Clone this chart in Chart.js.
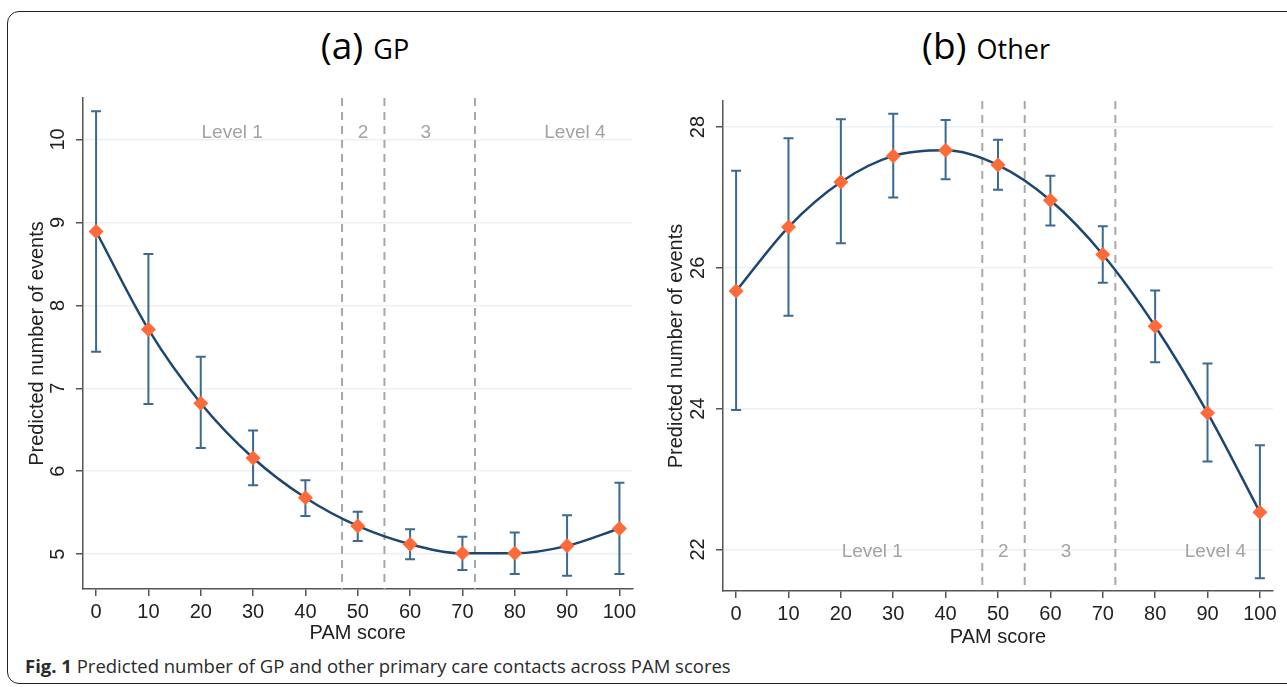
<!DOCTYPE html>
<html>
<head>
<meta charset="utf-8">
<script src="https://cdn.jsdelivr.net/npm/chart.js@4.4.0/dist/chart.umd.min.js"></script>
<style>
  html, body { margin: 0; padding: 0; background: #fff; overflow: hidden; }
  body { width: 1287px; height: 687px; position: relative; font-family: "Open Sans", sans-serif; }
  #frame { position: absolute; left: 7px; top: 11px; width: 1320px; height: 673px; border: 1.5px solid #222; border-radius: 12px; box-sizing: border-box; }
  .title { position: absolute; top: 19px; color: #000; white-space: nowrap; transform: translateX(-50%); }
  .title .big { font-size: 37px; }
  .title .small { font-size: 27px; margin-left: 6px; }
  canvas { position: absolute; top: 90px; }
  #caption { position: absolute; left: 25px; top: 653px; font-size: 18.5px; color: #2a2a2a; white-space: nowrap; }
</style>
</head>
<body>
<div id="frame"></div>
<div class="title" style="left:365px"><span class="big">(a)</span> <span class="small">GP</span></div>
<div class="title" style="left:986px"><span class="big">(b)</span> <span class="small">Other</span></div>
<canvas id="gpChart" width="640" height="560" style="left:0px"></canvas>
<canvas id="otherChart" width="647" height="560" style="left:640px"></canvas>
<div id="caption"><b>Fig. 1</b> Predicted number of GP and other primary care contacts across PAM scores</div>
<script>
// PAM score on the x axis
const pamScores = [0, 10, 20, 30, 40, 50, 60, 70, 80, 90, 100];
const xTicks = [0, 10, 20, 30, 40, 50, 60, 70, 80, 90, 100];

// (a) GP
const gpPredicted = [8.89, 7.71, 6.82, 6.16, 5.68, 5.34, 5.12, 5.01, 5.01, 5.10, 5.31];
const gpLower = [7.44, 6.81, 6.28, 5.83, 5.46, 5.16, 4.94, 4.81, 4.76, 4.74, 4.76];
const gpUpper = [10.34, 8.62, 7.38, 6.49, 5.89, 5.51, 5.30, 5.21, 5.26, 5.47, 5.86];
const gpTicks = [5, 6, 7, 8, 9, 10];

// (b) Other
const otherPredicted = [25.67, 26.58, 27.22, 27.59, 27.67, 27.46, 26.96, 26.19, 25.17, 23.94, 22.53];
const otherLower = [23.98, 25.32, 26.35, 27.00, 27.26, 27.11, 26.60, 25.79, 24.66, 23.25, 21.59];
const otherUpper = [27.38, 27.84, 28.11, 28.19, 28.10, 27.82, 27.31, 26.59, 25.68, 24.64, 23.48];
const otherTicks = [22, 24, 26, 28];

// PAM level cut points and labels
const levelCuts = [47, 55.1, 72.4];
const levelNames = ["Level 1", "2", "3", "Level 4"];
const levelMid = [26, 51, 63, 91.5];

const axisFont = { family: '"Liberation Sans", Arial, sans-serif', size: 20 };

// dashed cut lines, level labels and error bars
const pamExtras = {
  id: 'pamExtras',
  beforeDatasetsDraw(chart, args, opts) {
    const { ctx, chartArea, scales: { x, y } } = chart;
    ctx.save();
    ctx.strokeStyle = '#a8a8a8';
    ctx.lineWidth = 2;
    ctx.setLineDash([8, 6]);
    levelCuts.forEach(v => {
      const px = x.getPixelForValue(v);
      ctx.beginPath();
      ctx.moveTo(px, chartArea.top);
      ctx.lineTo(px, chartArea.bottom);
      ctx.stroke();
    });
    ctx.setLineDash([]);

    ctx.fillStyle = '#a3a3a3';
    ctx.font = '19px "Liberation Sans", Arial, sans-serif';
    ctx.textAlign = 'center';
    ctx.textBaseline = 'middle';
    levelNames.forEach((t, i) => {
      ctx.fillText(t, x.getPixelForValue(levelMid[i]), y.getPixelForValue(opts.labelY));
    });

    ctx.strokeStyle = '#3b6990';
    ctx.lineWidth = 2;
    opts.lower.forEach((lo, i) => {
      const px = x.getPixelForValue(pamScores[i]);
      const p1 = y.getPixelForValue(lo);
      const p2 = y.getPixelForValue(opts.upper[i]);
      ctx.beginPath();
      ctx.moveTo(px, p1); ctx.lineTo(px, p2);
      ctx.moveTo(px - 5, p1); ctx.lineTo(px + 5, p1);
      ctx.moveTo(px - 5, p2); ctx.lineTo(px + 5, p2);
      ctx.stroke();
    });
    ctx.restore();
  }
};

function makeChart(id, pred, lower, upper, yMin, yMax, yTicks, labelY, lay) {
  return new Chart(document.getElementById(id), {
    type: 'line',
    data: {
      datasets: [{
        data: pamScores.map((v, i) => ({ x: v, y: pred[i] })),
        borderColor: '#1d4770',
        borderWidth: 2.5,
        pointStyle: 'rectRot',
        pointRadius: 7.5,
        pointBackgroundColor: '#ff6a3a',
        pointBorderColor: '#ff6a3a',
        pointBorderWidth: 0,
        cubicInterpolationMode: 'monotone'
      }]
    },
    options: {
      responsive: false,
      animation: false,
      devicePixelRatio: 1,
      layout: { padding: { left: 0, top: lay.top, right: lay.right, bottom: 0 } },
      plugins: {
        legend: { display: false },
        tooltip: { enabled: false },
        pamExtras: { lower: lower, upper: upper, labelY: labelY }
      },
      scales: {
        x: {
          type: 'linear',
          min: -2.5,
          max: 102.5,
          afterBuildTicks: s => { s.ticks = xTicks.map(v => ({ value: v })); },
          afterFit: s => { s.height = lay.xHeight; s.paddingLeft = 0; s.paddingRight = 0; },
          border: { display: true, color: '#555', width: 1.5 },
          grid: { drawOnChartArea: false, color: '#555', tickLength: 7, lineWidth: 1.5 },
          ticks: { color: '#222', font: axisFont, padding: 4, maxRotation: 0 },
          title: { display: true, text: 'PAM score', color: '#222', font: axisFont, padding: { top: 0, bottom: lay.xTitlePad } }
        },
        y: {
          min: yMin,
          max: yMax,
          afterBuildTicks: s => { s.ticks = yTicks.map(v => ({ value: v })); },
          afterFit: s => { s.width = 83; s.paddingTop = 0; s.paddingBottom = 0; },
          border: { display: true, color: '#555', width: 1.5 },
          grid: { color: '#e9f1f8', lineWidth: 1.5, tickColor: '#555', tickLength: 7 },
          ticks: { color: '#222', font: axisFont, minRotation: 90, maxRotation: 90, crossAlign: 'center', padding: 6 },
          title: { display: true, text: 'Predicted number of events', color: '#222', font: axisFont, padding: { top: lay.yTitlePad, bottom: 0 } }
        }
      }
    },
    plugins: [pamExtras]
  });
}

makeChart('gpChart', gpPredicted, gpLower, gpUpper, 4.58, 10.5, gpTicks, 10.08,
  { top: 8, right: 7, xHeight: 61, xTitlePad: 5, yTitlePad: 25 });
makeChart('otherChart', otherPredicted, otherLower, otherUpper, 21.41, 28.37, otherTicks, 21.97,
  { top: 11, right: 14, xHeight: 59, xTitlePad: 1, yTitlePad: 24 });
</script>
</body>
</html>
